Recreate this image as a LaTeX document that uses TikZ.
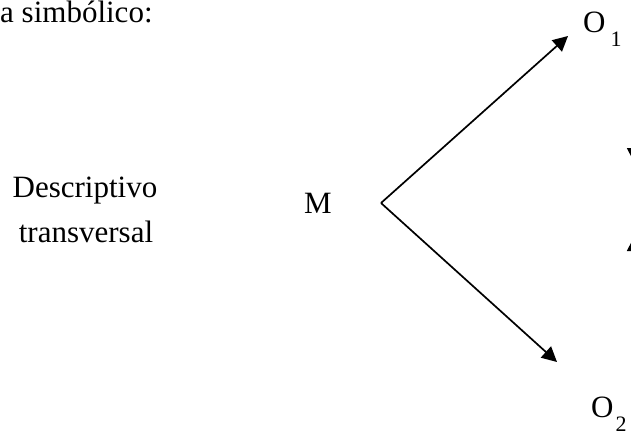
\documentclass[tikz,border=0pt]{standalone}
\usepackage{fontspec}
\setmainfont{Liberation Serif}
\usetikzlibrary{arrows.meta}
\begin{document}
\begin{tikzpicture}[x=1pt,y=-1pt,
  lbl/.style={inner sep=0pt,font=\fontsize{31}{36}\selectfont},
  conn/.style={line width=1.7pt,-{Triangle[length=15pt,width=15pt]}}]
\useasboundingbox (0,0) rectangle (631,434);
\clip (0,0) rectangle (631,434);
\node[lbl,anchor=base west] (title) at (0,22) {a simbólico:};
\node[lbl,anchor=base] (d1) at (85,197) {Descriptivo};
\node[lbl,anchor=base] (d2) at (86,242) {transversal};
\node[lbl,anchor=base west] (M) at (304,213) {M};
\node[lbl,anchor=base west] (O1) at (583,32) {O\hspace{5pt}\raisebox{-14pt}{\fontsize{22}{22}\selectfont 1}};
\node[lbl,anchor=base west] (O2) at (591,417) {O\hspace{2pt}\raisebox{-14pt}{\fontsize{22}{22}\selectfont 2}};
\coordinate (v) at (381,203);
\coordinate (t1) at (568,36);
\coordinate (t2) at (557,362);
\draw[conn] (v) -- (t1);
\draw[conn] (v) -- (t2);
\coordinate (r1a) at (634.5,100);
\coordinate (r1b) at (634.5,163);
\coordinate (r2a) at (634.5,300);
\coordinate (r2b) at (634.5,236);
\draw[conn] (r1a) -- (r1b);
\draw[conn] (r2a) -- (r2b);
\end{tikzpicture}
\end{document}
